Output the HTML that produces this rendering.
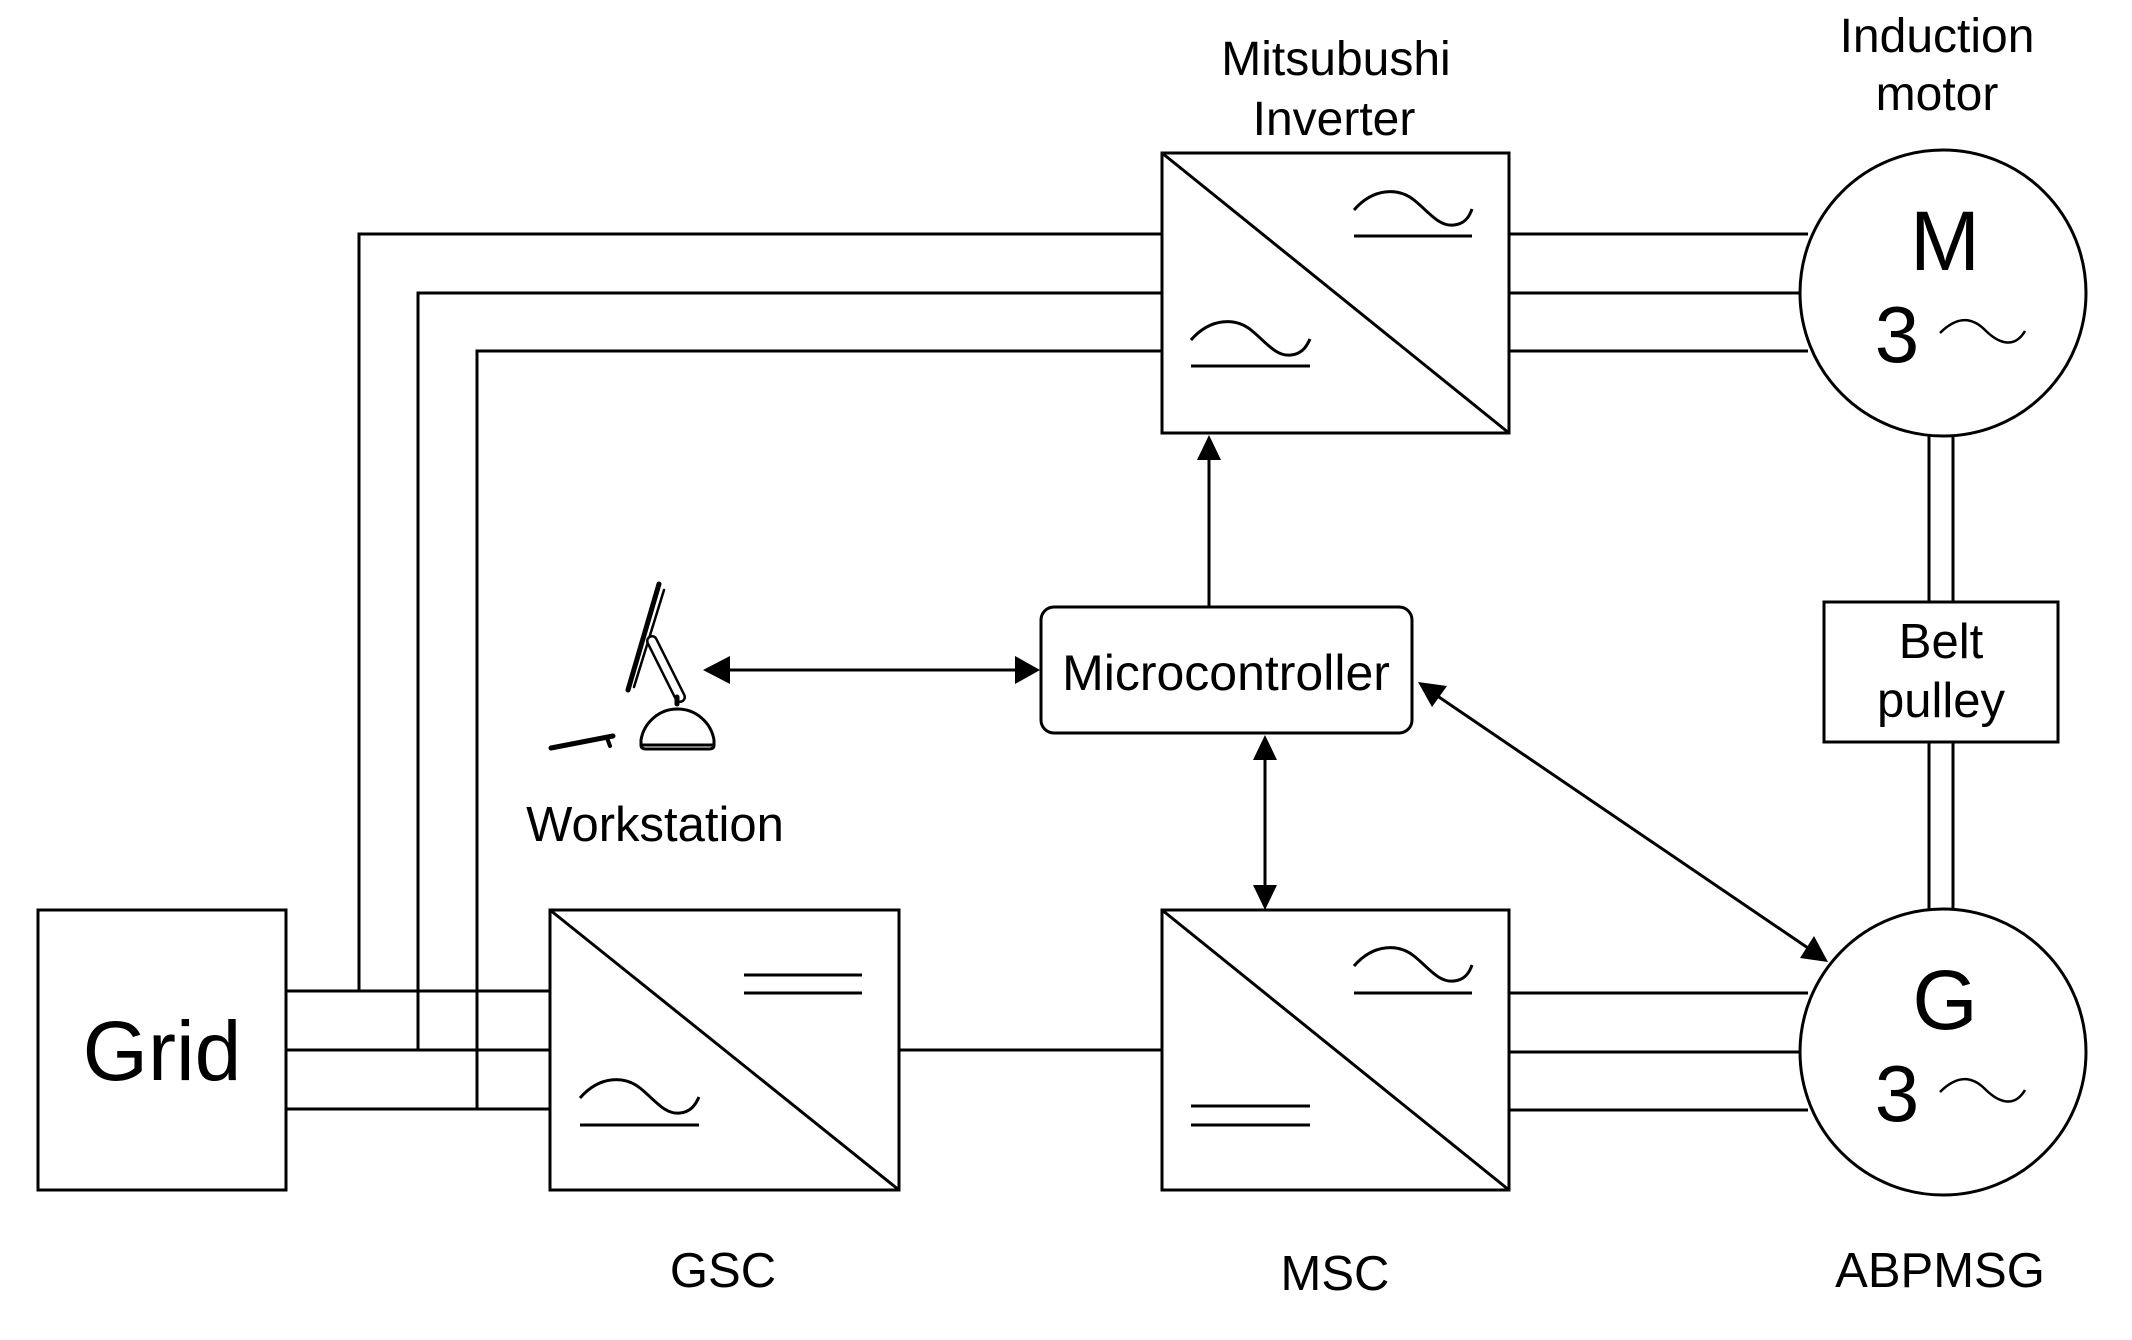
<!DOCTYPE html>
<html><head><meta charset="utf-8"><style>html,body{margin:0;padding:0;background:#fff}svg{display:block}text{font-family:"Liberation Sans",sans-serif;fill:#000}</style></head>
<body>
<svg width="2132" height="1340" viewBox="0 0 2132 1340" xmlns="http://www.w3.org/2000/svg">
<g fill="none" stroke="#000" stroke-width="3">
<rect x="38" y="910" width="248" height="280"/>
<rect x="550" y="910" width="349" height="280"/>
<line x1="550" y1="910" x2="899" y2="1190"/>
<line x1="744" y1="975" x2="862" y2="975"/><line x1="744" y1="993" x2="862" y2="993"/>
<path d="M580,1098 C600,1075 625,1076 640,1088 C655,1100 665,1115 680,1113 C690,1112 695,1106 699,1097"/>
<line x1="580" y1="1125" x2="699" y2="1125"/>
<rect x="1162" y="910" width="347" height="280"/>
<line x1="1162" y1="910" x2="1509" y2="1190"/>
<path d="M1354,966 C1374,943 1399,944 1414,956 C1429,968 1439,983 1454,981 C1464,980 1469,974 1472,965"/>
<line x1="1354" y1="993" x2="1472" y2="993"/>
<line x1="1191" y1="1106" x2="1310" y2="1106"/><line x1="1191" y1="1125" x2="1310" y2="1125"/>
<rect x="1162" y="153" width="347" height="280"/>
<line x1="1162" y1="153" x2="1509" y2="433"/>
<path d="M1354,210 C1374,187 1399,188 1414,200 C1429,212 1439,227 1454,225 C1464,224 1469,218 1472,209"/>
<line x1="1354" y1="236" x2="1472" y2="236"/>
<path d="M1191,340 C1211,317 1236,318 1251,330 C1266,342 1276,357 1291,355 C1301,354 1306,348 1310,339"/>
<line x1="1191" y1="366" x2="1310" y2="366"/>
<circle cx="1943" cy="293" r="143"/>
<circle cx="1943" cy="1052" r="143"/>
<path d="M1940,333 C1955,318 1970,315 1985,330 S2015,348 2025,331" stroke-width="2.5"/>
<path d="M1940,1092 C1955,1077 1970,1074 1985,1089 S2015,1107 2025,1090" stroke-width="2.5"/>
<rect x="1824" y="602" width="234" height="140"/>
<line x1="1929" y1="436" x2="1929" y2="602"/><line x1="1953" y1="436" x2="1953" y2="602"/>
<line x1="1929" y1="742" x2="1929" y2="909"/><line x1="1953" y1="742" x2="1953" y2="909"/>
<line x1="286" y1="991" x2="550" y2="991"/>
<line x1="286" y1="1050" x2="550" y2="1050"/>
<line x1="286" y1="1109" x2="550" y2="1109"/>
<polyline points="359,991 359,234 1162,234"/>
<polyline points="418,1050 418,293 1162,293"/>
<polyline points="477,1109 477,351 1162,351"/>
<line x1="899" y1="1050" x2="1162" y2="1050"/>
<line x1="1509" y1="234" x2="1808" y2="234"/>
<line x1="1509" y1="293" x2="1800" y2="293"/>
<line x1="1509" y1="351" x2="1808" y2="351"/>
<line x1="1509" y1="993" x2="1808" y2="993"/>
<line x1="1509" y1="1052" x2="1800" y2="1052"/>
<line x1="1509" y1="1110" x2="1808" y2="1110"/>
<rect x="1041" y="607" width="371" height="126" rx="13"/>
<line x1="1209" y1="607" x2="1209" y2="460"/>
<line x1="1265" y1="760" x2="1265" y2="885"/>
<line x1="730" y1="670" x2="1015" y2="670"/>
<line x1="1436" y1="695" x2="1808" y2="948"/>
</g>
<g fill="#000">
<polygon points="1209,435 1197,460 1221,460"/>
<polygon points="1265,735 1253,760 1277,760"/>
<polygon points="1265,910 1253,885 1277,885"/>
<polygon points="703,670 730,656 730,684"/>
<polygon points="1040,670 1015,656 1015,684"/>
<polygon points="1418,682 1447,686 1432,707"/>
<polygon points="1828,962 1800,958 1814,936"/>
</g>
<g stroke="#000" fill="none" stroke-linecap="round">
<line x1="659" y1="584" x2="628" y2="690" stroke-width="5"/>
<line x1="664" y1="590" x2="634" y2="687" stroke-width="2.5"/>
<line x1="652" y1="641" x2="680" y2="697" stroke-width="12"/>
<line x1="652" y1="641" x2="680" y2="697" stroke-width="7" stroke="#fff"/>
<path d="M641,740 A37,37 0 0 1 714,740 L714,745 Q714,749 709,749 L646,749 Q641,749 641,745 Z" stroke-width="3" fill="#fff"/>
<line x1="642" y1="745" x2="713" y2="745" stroke-width="3"/>
<line x1="677" y1="697" x2="677" y2="704" stroke-width="5"/>
<line x1="551" y1="748" x2="613" y2="736" stroke-width="5"/>
<line x1="607" y1="738" x2="610" y2="746" stroke-width="4"/>
</g>
<text x="1336" y="75" font-size="48" text-anchor="middle">Mitsubushi</text>
<text x="1334" y="135" font-size="48" text-anchor="middle">Inverter</text>
<text x="1937" y="52" font-size="48" text-anchor="middle">Induction</text>
<text x="1937" y="110" font-size="48" text-anchor="middle">motor</text>
<text x="1945" y="270" font-size="84" text-anchor="middle">M</text>
<text x="1897" y="362" font-size="80" text-anchor="middle">3</text>
<text x="1945" y="1029" font-size="84" text-anchor="middle">G</text>
<text x="1897" y="1121" font-size="80" text-anchor="middle">3</text>
<text x="162" y="1080" font-size="84" text-anchor="middle">Grid</text>
<text x="723" y="1287" font-size="49" text-anchor="middle">GSC</text>
<text x="1335" y="1290" font-size="49" text-anchor="middle">MSC</text>
<text x="1940" y="1287" font-size="49" text-anchor="middle">ABPMSG</text>
<text x="655" y="841" font-size="49" text-anchor="middle">Workstation</text>
<text x="1226" y="690" font-size="50" text-anchor="middle">Microcontroller</text>
<text x="1941" y="658" font-size="49" text-anchor="middle">Belt</text>
<text x="1941" y="717" font-size="49" text-anchor="middle">pulley</text>
</svg>
</body></html>
